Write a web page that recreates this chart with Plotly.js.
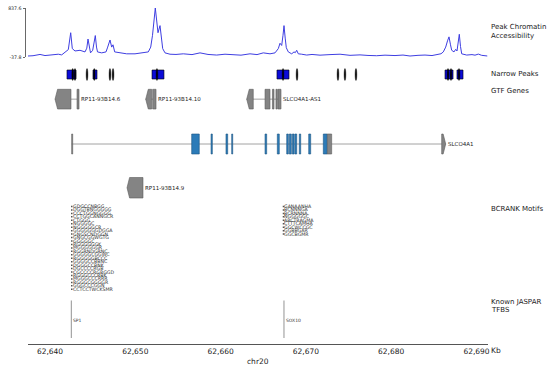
<!DOCTYPE html>
<html><head><meta charset="utf-8">
<script src="https://cdn.plot.ly/plotly-3.0.1.min.js"></script>
<style>html,body{margin:0;padding:0;background:#fff}#chart{width:550px;height:367px}</style>
</head><body><div id="chart"></div>
<script>
// ---------------- DATA ----------------
const chrom = 'chr20';
const tickKb = [62640, 62650, 62660, 62670, 62680, 62690];
const tickLabels = ['62,640', '62,650', '62,660', '62,670', '62,680', '62,690'];
const signalRange = [-37.8, 837.6];
const signalPos = [62637.42, 62638.007, 62638.828, 62639.414, 62639.883, 62640.387, 62640.973, 62641.372, 62641.876, 62642.145, 62642.427, 62642.614, 62642.931, 62643.517, 62644.103, 62644.314, 62644.455, 62644.631, 62644.748, 62645.006, 62645.182, 62645.311, 62645.451, 62645.569, 62646.061, 62646.565, 62646.764, 62647.034, 62647.233, 62647.386, 62647.585, 62648.206, 62648.992, 62649.965, 62650.938, 62651.524, 62651.806, 62652.017, 62652.345, 62652.544, 62652.661, 62652.896, 62653.036, 62653.212, 62653.482, 62654.068, 62654.771, 62655.627, 62656.647, 62657.585, 62658.523, 62659.543, 62660.516, 62661.489, 62662.392, 62663.447, 62664.267, 62665.006, 62665.791, 62666.377, 62666.764, 62666.964, 62667.163, 62667.315, 62667.433, 62667.573, 62667.702, 62667.937, 62668.335, 62668.605, 62668.757, 62668.921, 62669.109, 62669.508, 62670.094, 62670.715, 62671.653, 62672.825, 62674.0, 62675.170, 62676.342, 62677.280, 62678.300, 62679.273, 62680.445, 62681.383, 62682.204, 62683.142, 62683.962, 62684.783, 62685.522, 62685.838, 62686.108, 62686.389, 62686.600, 62686.776, 62686.952, 62687.093, 62687.362, 62687.562, 62687.714, 62687.866, 62687.984, 62688.124, 62688.265, 62688.851, 62689.472, 62689.824, 62690.211, 62690.610, 62690.996, 62691.29];
const signalVal = [-20, -15, 8, -12, -5, -3, 12, 0, 53, 94, 396, 112, 70, 82, 53, 120, 283, 110, 36, 82, 200, 345, 140, 53, 36, 53, 139, 266, 139, 180, 53, 36, 19, 19, 36, 53, 139, 350, 837.6, 560, 396, 523, 300, 112, 36, 12, 8, 19, 5, 36, 8, -3, 12, 8, -5, 19, 5, 36, 19, 36, 112, 208, 168, 350, 523, 300, 128, 53, 19, 53, 40, 82, 19, 12, -3, 8, -5, 5, 12, -8, 0, -10, -15, -5, -12, -3, -20, -8, -3, -12, 14, 20, 53, 139, 250, 322, 180, 82, 53, 99, 70, 200, 368, 150, 19, -3, 5, -5, 14, -8, -15, -20];

const peakStarts = [62641.99, 62645.04, 62651.96, 62666.61, 62686.31, 62687.71];
const peakEnds   = [62643.05, 62645.51, 62653.36, 62668.02, 62687.25, 62688.42];
const summits = [62642.66, 62642.93, 62644.34, 62645.19, 62647.03, 62647.39, 62652.54, 62667.32, 62668.96, 62673.76, 62674.58, 62675.87, 62686.66, 62687.01, 62687.95];

const geneNames   = ['RP11-93B14.6', 'RP11-93B14.10', 'SLCO4A1-AS1', 'SLCO4A1', 'RP11-93B14.9'];
const geneStrands = ['-', '-', '-', '+', '-'];
const geneRows    = [0, 0, 0, 1, 2];
const geneExonStarts = [
  [62640.59, 62643.17],
  [62651.22, 62652.04],
  [62663.06, 62665.21, 62666.08, 62666.49, 62666.73],
  [62642.54, 62656.61, 62658.88, 62660.63, 62661.30, 62665.21, 62666.65, 62667.75, 62668.05, 62668.41, 62668.70, 62669.23, 62670.33, 62672.04, 62672.51, 62685.92],
  [62649.03]
];
const geneExonEnds = [
  [62642.46, 62643.40],
  [62651.92, 62652.43],
  [62663.83, 62665.79, 62666.26, 62666.65, 62667.08],
  [62642.66, 62657.50, 62659.03, 62660.83, 62661.42, 62665.40, 62666.88, 62667.94, 62668.29, 62668.61, 62668.92, 62669.39, 62670.56, 62672.51, 62673.02, 62686.39],
  [62650.90]
];
const geneExonCoding = [
  [0, 0],
  [0, 0],
  [0, 0, 0, 0, 0],
  [0, 1, 1, 1, 1, 1, 1, 1, 1, 1, 1, 1, 1, 1, 0, 0],
  [0]
];

const motifSites = [62642.55, 62667.37];
const motifSeqs = [
  ['GDGCCNBGG', 'DGGTBNGGGGG', 'CCCTGGNGGGG', 'CCTGGCANNGCR', 'CTGGG', 'NGGGGC', 'NGGGGGCR', 'GGGGGGGDGGA',
   'GNGSCNDGGN', 'GNGCGGWGTG', 'GGGGGC', 'RGGGGGGK', 'MGGGGGGR', 'RGGRNDGRNC', 'GGGGGCGGWC', 'RGGGGGBCCC',
   'GGGGCCBBNC', 'DGGGCCBNK', 'DGCCCCRGB', 'CGCCCCRGRGGD', 'RGGGCCCRBK', 'MGGGCCCRRR', 'RGGGCGGGGR',
   'GGGCCCGGN', 'CCTCCTWCKSMR'],
  ['GANAANHA', 'BCNNNGA', 'BCRNNNA', 'NGGGGGC', 'ARCTRAGMA', 'CTTTCAMHA', 'GGCWCCGC', 'GGBBGAR', 'GGCBGMR']
];

const tfbsNames = ['SP1', 'SOX10'];
const tfbsPos = [62642.50, 62667.43];

const trackLabels = [['Peak Chromatin', 27], ['Accessibility', 35.5], ['Narrow Peaks', 73.7], ['GTF Genes', 91],
                     ['BCRANK Motifs', 209.3], ['Known JASPAR', 301.6], ['TFBS', 310]];

// ---------------- LAYOUT HELPERS ----------------
const W = 550, H = 367;
const PX0 = 50, PXPERKB = 8.53, KB0 = 62640;
function kbAt(px) { return KB0 + (px - PX0) / PXPERKB; }
function yd(px) { return (H - px) / H; }
const FONT = 'DejaVu Sans';
const AX_LEFT = 28, AX_RIGHT = 487.5, AX_Y = 344;
const TIP = 0.3;
const rowY = [[89.3, 109], [134, 154], [177.5, 198]];

const shapes = [];
const annotations = [];

// narrow peaks
for (let i = 0; i < peakStarts.length; i++) {
  shapes.push({type: 'rect', xref: 'x', yref: 'y', x0: peakStarts[i], x1: peakEnds[i], y0: 70, y1: 79,
    fillcolor: '#0b0bd8', line: {color: '#000', width: 0.6}});
}
for (let i = 0; i < summits.length; i++) {
  shapes.push({type: 'circle', xref: 'x', yref: 'y', x0: summits[i] - 0.1, x1: summits[i] + 0.1, y0: 68.5, y1: 80.5,
    fillcolor: '#000', line: {color: '#000', width: 0.4}});
}

// genes
for (let g = 0; g < geneNames.length; g++) {
  const st = geneExonStarts[g], en = geneExonEnds[g];
  const [top, bot] = rowY[geneRows[g]];
  const mid = (top + bot) / 2;
  const gs = Math.min(...st), ge = Math.max(...en);
  shapes.push({type: 'line', xref: 'x', yref: 'y', x0: gs, x1: ge, y0: mid, y1: mid, line: {color: '#8a8a8a', width: 0.8}});
  for (let e = 0; e < st.length; e++) {
    const coding = geneExonCoding[g][e] === 1;
    const fill = coding ? '#2c7bb8' : '#848484';
    const edge = coding ? '#1d5583' : '#5c5c5c';
    const x0 = st[e], x1 = en[e];
    let path;
    if (geneStrands[g] === '-' && x0 === gs) {
      path = `M ${x0 + TIP},${top} L ${x1},${top} L ${x1},${bot} L ${x0 + TIP},${bot} L ${x0},${mid} Z`;
    } else if (geneStrands[g] === '+' && x1 === ge) {
      path = `M ${x0},${top} L ${x1 - TIP},${top} L ${x1},${mid} L ${x1 - TIP},${bot} L ${x0},${bot} Z`;
    }
    if (path) shapes.push({type: 'path', xref: 'x', yref: 'y', path: path, fillcolor: fill, line: {color: edge, width: 0.6}});
    else shapes.push({type: 'rect', xref: 'x', yref: 'y', x0: x0, x1: x1, y0: top, y1: bot, fillcolor: fill, line: {color: edge, width: 0.6}});
  }
  annotations.push({xref: 'x', yref: 'y', x: ge, y: mid, text: geneNames[g], showarrow: false, xanchor: 'left', yanchor: 'middle',
    font: {family: FONT, size: 5.5, color: '#222'}});
}

// motifs
const motifX = [], motifY = [];
for (let s = 0; s < motifSites.length; s++) {
  motifSeqs[s].forEach((seq, i) => {
    const y = 206.5 + i * 3.45;
    motifX.push(motifSites[s]); motifY.push(y);
    annotations.push({xref: 'x', yref: 'y', x: motifSites[s], y: y, text: seq, showarrow: false, xanchor: 'left', yanchor: 'middle',
      borderpad: 0, font: {family: FONT, size: 4.7, color: '#333'}});
  });
}

// JASPAR TFBS
for (let i = 0; i < tfbsNames.length; i++) {
  shapes.push({type: 'line', xref: 'x', yref: 'y', x0: tfbsPos[i], x1: tfbsPos[i], y0: 300.5, y1: 338, line: {color: '#777', width: 0.8}});
  annotations.push({xref: 'x', yref: 'y', x: tfbsPos[i], y: 320, text: tfbsNames[i], showarrow: false, xanchor: 'left', yanchor: 'middle',
    font: {family: FONT, size: 4.5, color: '#333'}});
}

// track labels
trackLabels.forEach(([t, y]) => {
  annotations.push({xref: 'paper', yref: 'paper', x: 491 / W, y: yd(y), text: t, showarrow: false, xanchor: 'left', yanchor: 'middle',
    xshift: -2, font: {family: FONT, size: 7, color: '#222'}});
});
annotations.push({xref: 'paper', yref: 'paper', x: 489 / W, y: yd(350), text: 'Kb', showarrow: false, xanchor: 'left', yanchor: 'middle',
  font: {family: FONT, size: 7.5, color: '#222'}});
annotations.push({xref: 'paper', yref: 'paper', x: (AX_LEFT + AX_RIGHT) / 2 / W, y: yd(361), text: chrom, showarrow: false, xanchor: 'center', yanchor: 'middle',
  font: {family: FONT, size: 7.5, color: '#222'}});

const traces = [
  {type: 'scatter', mode: 'lines', x: signalPos, y: signalVal, xaxis: 'x', yaxis: 'y2',
   line: {color: 'rgb(62,62,225)', width: 1}, hoverinfo: 'skip'},
  {type: 'scatter', mode: 'markers', x: motifX, y: motifY, xaxis: 'x', yaxis: 'y',
   marker: {symbol: 'square', size: 1.5, color: '#555'}, hoverinfo: 'skip'}
];

const layout = {
  width: W, height: H,
  margin: {l: 0, r: 0, t: 0, b: 0},
  paper_bgcolor: '#fff', plot_bgcolor: 'rgba(0,0,0,0)',
  showlegend: false,
  font: {family: FONT, color: '#222'},
  xaxis: {domain: [AX_LEFT / W, AX_RIGHT / W], range: [kbAt(AX_LEFT), kbAt(AX_RIGHT)], anchor: 'y',
    showline: true, linecolor: '#555', linewidth: 1, ticks: '', showgrid: false, zeroline: false,
    tickmode: 'array', tickvals: tickKb, ticktext: tickLabels, tickfont: {family: FONT, size: 7.5, color: '#222'}},
  yaxis: {domain: [yd(AX_Y), 1], range: [AX_Y, 0], visible: false, showgrid: false, zeroline: false},
  yaxis2: {domain: [yd(57), yd(8)], range: signalRange, anchor: 'free', position: 25 / W, side: 'left',
    showline: true, linecolor: '#444', linewidth: 0.8, ticks: 'outside', ticklen: 2.5, tickwidth: 0.8, tickcolor: '#444',
    tickmode: 'array', tickvals: signalRange, ticktext: signalRange.map(v => v.toFixed(1)),
    tickfont: {family: FONT, size: 4.7, color: '#222'}, showgrid: false, zeroline: false},
  shapes: shapes,
  annotations: annotations
};

Plotly.newPlot('chart', traces, layout, {displayModeBar: false, staticPlot: true});
</script>
</body></html>
